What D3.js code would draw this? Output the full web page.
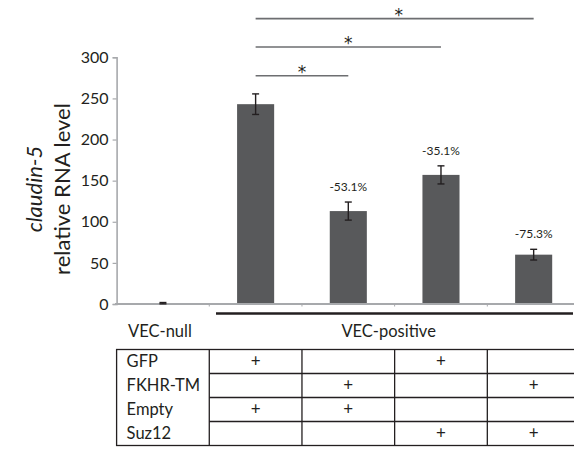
<!DOCTYPE html>
<html><head><meta charset="utf-8">
<script src="https://cdn.jsdelivr.net/npm/d3@7"></script>
<style>body{margin:0;background:#fff}svg{display:block}text{font-family:Lato,"Open Sans",sans-serif;fill:#231f20}</style>
</head><body><svg id="c" width="574" height="449"></svg>
<script>
const categories = ["VEC-null","GFP+Empty","FKHR-TM+Empty","GFP+Suz12","FKHR-TM+Suz12"];
const values = [1, 243, 113, 157, 60];
const errors = [0.8, 12.5, 11, 11, 6.5];
const pctLabels = ["", "", "-53.1%", "-35.1%", "-75.3%"];
const yTicks = [0, 50, 100, 150, 200, 250, 300];
const sigFrom = [1, 1, 1];
const sigTo = [4, 3, 2];
const sigLevel = [347, 312.5, 277.5];
const groupNames = ["VEC-null", "VEC-positive"];
const rowNames = ["GFP", "FKHR-TM", "Empty", "Suz12"];
const rowMarks = [
  [1, 0, 1, 0],
  [0, 1, 0, 1],
  [1, 1, 0, 0],
  [0, 0, 1, 1]
];

const svg = d3.select("#c");
const x = d3.scaleBand().domain(categories).range([116.6, 580]).paddingInner(0.6).paddingOuter(0.3);
const y = d3.scaleLinear().domain([0, 300]).range([304, 57.3]);
const step = x.step();
const bandStart = i => x.range()[0] + i * step;
const cx = i => x(categories[i]) + x.bandwidth() / 2;

// y axis
const ya = svg.append("g").attr("transform", "translate(116.6,0)")
  .call(d3.axisLeft(y).tickValues(yTicks).tickSize(4).tickPadding(4).tickFormat(d3.format("d")));
ya.select(".domain").attr("stroke", "#a7a9ac").attr("stroke-width", 1.6);
ya.selectAll(".tick line").attr("stroke", "#a7a9ac").attr("stroke-width", 1.2);
ya.selectAll(".tick text").style("font-size", "16px").attr("fill", "#231f20").style("font-family", "Lato");

// bars
svg.append("g").selectAll("rect").data(values).join("rect")
  .attr("x", (d, i) => x(categories[i])).attr("width", x.bandwidth())
  .attr("y", d => y(d)).attr("height", d => y(0) - y(d)).attr("fill", "#58595b");

// x axis
const xa = svg.append("g").attr("transform", "translate(0,304)");
xa.append("line").attr("x1", 115).attr("x2", 580).attr("stroke", "#a7a9ac").attr("stroke-width", 1.8);
xa.selectAll("line.t").data(d3.range(1, 5)).join("line").attr("class", "t")
  .attr("x1", i => bandStart(i)).attr("x2", i => bandStart(i)).attr("y1", 0).attr("y2", 2.5)
  .attr("stroke", "#a7a9ac").attr("stroke-width", 1);

// error bars
const eb = svg.append("g").attr("stroke", "#231f20").attr("stroke-width", 1.4);
values.forEach((v, i) => {
  const c = cx(i), e = errors[i];
  eb.append("line").attr("x1", c).attr("x2", c).attr("y1", y(v + e)).attr("y2", y(v - e));
  eb.append("line").attr("x1", c - 3.5).attr("x2", c + 3.5).attr("y1", y(v + e)).attr("y2", y(v + e));
  eb.append("line").attr("x1", c - 3.5).attr("x2", c + 3.5).attr("y1", y(v - e)).attr("y2", y(v - e));
});

// percent labels
svg.append("g").selectAll("text").data(pctLabels).join("text")
  .attr("x", (d, i) => cx(i)).attr("y", (d, i) => y(values[i] + errors[i]) - 11)
  .attr("text-anchor", "middle").style("font-size", "12px").text(d => d);

// significance
sigFrom.forEach((a, k) => {
  const b = sigTo[k], yy = y(sigLevel[k]);
  svg.append("line").attr("x1", cx(a)).attr("x2", cx(b)).attr("y1", yy).attr("y2", yy)
    .attr("stroke", "#6d6e71").attr("stroke-width", 1.6);
  svg.append("text").attr("x", (cx(a) + cx(b)) / 2 + (k === 0 ? 4 : 0)).attr("y", yy + 2)
    .attr("text-anchor", "middle").style("font-family", "'DejaVu Sans'").style("font-size", "17px").text("*");
});

// y title
const yt = svg.append("text").attr("transform", "translate(42,189) rotate(-90)").attr("text-anchor", "middle");
yt.append("tspan").attr("x", 0).attr("y", 0).style("font-style", "italic").style("font-size", "22px").text("claudin-5");
yt.append("tspan").attr("x", 0).attr("y", 28).style("font-size", "22px").text("relative RNA level");

// group bracket
svg.append("line").attr("x1", 216).attr("x2", 573).attr("y1", 313.5).attr("y2", 313.5)
  .attr("stroke", "#231f20").attr("stroke-width", 2.6);
svg.append("text").attr("x", cx(0) - 3).attr("y", 336.5).attr("text-anchor", "middle").style("font-size", "16.5px").text(groupNames[0]);
svg.append("text").attr("x", (cx(1) + cx(4)) / 2 - 6).attr("y", 336.5).attr("text-anchor", "middle").style("font-size", "16.5px").text(groupNames[1]);

// table
const tTop = 349.5, rh = 24;
const tb = svg.append("g");
const tLeft = bandStart(0), tRight = bandStart(5);
tb.append("rect").attr("x", tLeft).attr("y", tTop).attr("width", tRight - tLeft).attr("height", rh * rowNames.length)
  .attr("fill", "none").attr("stroke", "#231f20").attr("stroke-width", 1.3);
d3.range(1, 5).forEach(i => {
  tb.append("line").attr("x1", bandStart(i)).attr("x2", bandStart(i)).attr("y1", tTop).attr("y2", tTop + rh * rowNames.length)
    .attr("stroke", "#231f20").attr("stroke-width", 1.3);
});
d3.range(1, rowNames.length).forEach(r => {
  tb.append("line").attr("x1", bandStart(1)).attr("x2", tRight).attr("y1", tTop + r * rh).attr("y2", tTop + r * rh)
    .attr("stroke", "#231f20").attr("stroke-width", 1.3);
});
rowNames.forEach((n, r) => {
  tb.append("text").attr("x", tLeft + 10).attr("y", tTop + r * rh + rh / 2).attr("dy", "0.35em")
    .style("font-size", "16.5px").text(n);
  rowMarks[r].forEach((m, j) => {
    if (m) tb.append("text").attr("x", (bandStart(j + 1) + bandStart(j + 2)) / 2).attr("y", tTop + r * rh + rh / 2)
      .attr("dy", "0.35em").attr("text-anchor", "middle").style("font-size", "17px").text("+");
  });
});
</script></body></html>
